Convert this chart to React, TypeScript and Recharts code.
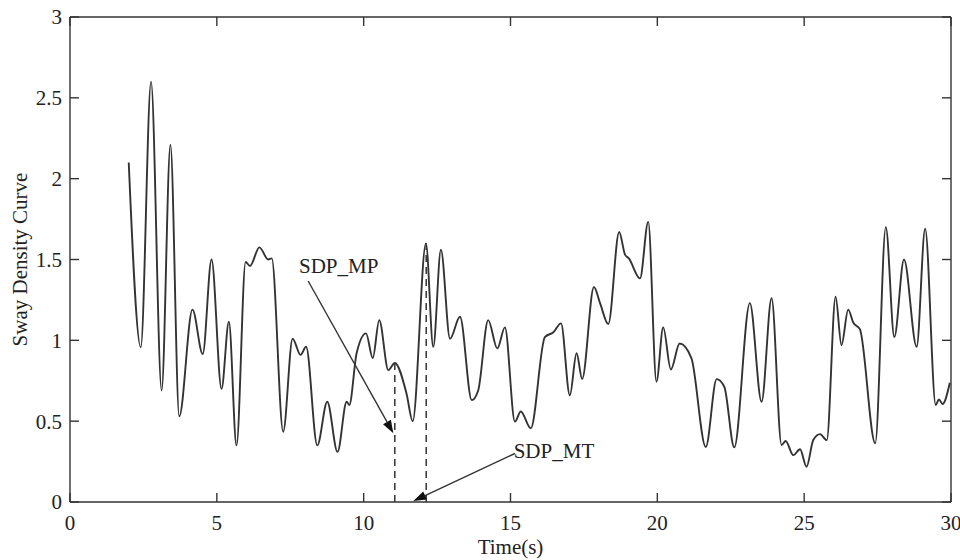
import { Line, LineChart, ReferenceDot, ReferenceLine, XAxis, YAxis } from "recharts"

// tiempos (s) y valores de la curva
const times = [
  2.0, 2.41, 2.76, 3.12, 3.42, 3.72, 4.17, 4.52, 4.82, 5.16, 5.41, 5.67, 5.98, 6.13, 6.45, 6.75, 6.87,
  7.26, 7.58, 7.85, 8.04, 8.42, 8.76, 9.11, 9.42, 9.51, 9.76, 10.08, 10.31, 10.53, 10.84, 11.06, 11.46,
  11.67, 12.12, 12.37, 12.63, 12.94, 13.28, 13.68, 13.9, 14.24, 14.55, 14.81, 15.15, 15.35, 15.69, 16.17,
  16.46, 16.72, 17.02, 17.25, 17.44, 17.84, 18.05, 18.33, 18.7, 18.9, 19.03, 19.41, 19.69, 19.97, 20.2,
  20.46, 20.76, 21.16, 21.65, 22.02, 22.28, 22.62, 23.15, 23.55, 23.89, 24.23, 24.37, 24.63, 24.86, 25.08,
  25.31, 25.54, 25.77, 26.07, 26.27, 26.5, 26.67, 26.9, 27.42, 27.78, 28.07, 28.4, 28.83, 29.12, 29.48,
  29.59, 29.71, 29.96,
]
const sway = [
  2.1, 0.957, 2.6, 0.69, 2.21, 0.53, 1.19, 0.915, 1.5, 0.7, 1.115, 0.35, 1.485, 1.46, 1.575, 1.5, 1.507,
  0.435, 1.01, 0.91, 0.96, 0.35, 0.62, 0.31, 0.62, 0.6, 0.92, 1.043, 0.89, 1.125, 0.816, 0.86, 0.67,
  0.5, 1.6, 0.96, 1.56, 1.01, 1.146, 0.63, 0.69, 1.125, 0.95, 1.08, 0.497, 0.56, 0.456, 1.02,
  1.05, 1.105, 0.66, 0.92, 0.76, 1.33, 1.23, 1.1, 1.67, 1.53, 1.507, 1.383, 1.733, 0.744, 1.08,
  0.82, 0.98, 0.89, 0.34, 0.76, 0.713, 0.338, 1.23, 0.62, 1.26, 0.353, 0.377, 0.29, 0.326, 0.218,
  0.383, 0.42, 0.383, 1.27, 0.97, 1.19, 1.11, 1.068, 0.363, 1.7, 1.02, 1.5, 0.96, 1.69, 0.6,
  0.635, 0.606, 0.738,
]

const xTicks = [0, 5, 10, 15, 20, 25, 30]
const yTicks = [0, 0.5, 1, 1.5, 2, 2.5, 3]

// anotaciones: puntos marcados y flechas
const sdpMp = { t: 11.06, v: 0.86 }
const sdpMt = { t: 12.13, v: 1.6 }
const mpLabel = { t: 9.15, v: 1.46, text: "SDP_MP" }
const mtLabel = { t: 16.48, v: 0.32, text: "SDP_MT" }
const mpArrow = [{ x: 8.11, y: 1.367 }, { x: 11.01, y: 0.425 }]
const mtArrow = [{ x: 15.15, y: 0.3 }, { x: 11.69, y: 0.006 }]

const data = times.map((t, i) => ({ t, v: sway[i] }))

const ink = "#333"
const font = "'Liberation Serif', 'Times New Roman', serif"
const TICK = 9

function ArrowSegment(props: any) {
  const { x1, y1, x2, y2 } = props
  const ang = Math.atan2(y2 - y1, x2 - x1)
  const len = 13
  const half = 4.5
  const bx = x2 - len * Math.cos(ang)
  const by = y2 - len * Math.sin(ang)
  const px = -Math.sin(ang) * half
  const py = Math.cos(ang) * half
  return (
    <g>
      <line x1={x1} y1={y1} x2={bx} y2={by} stroke={ink} strokeWidth={1.4} />
      <polygon points={`${x2},${y2} ${bx + px},${by + py} ${bx - px},${by - py}`} fill="#111" />
    </g>
  )
}

// marcas de graduación hacia dentro, en ambos extremos de la línea de referencia
function InwardTicks(props: any) {
  const { x1, y1, x2, y2 } = props
  if (Math.abs(x1 - x2) < 0.5) {
    const top = Math.min(y1, y2)
    const bot = Math.max(y1, y2)
    return (
      <g stroke={ink} strokeWidth={1.4}>
        <line x1={x1} y1={top} x2={x1} y2={top + TICK} />
        <line x1={x1} y1={bot - TICK} x2={x1} y2={bot} />
      </g>
    )
  }
  const l = Math.min(x1, x2)
  const r = Math.max(x1, x2)
  return (
    <g stroke={ink} strokeWidth={1.4}>
      <line x1={l} y1={y1} x2={l + TICK} y2={y1} />
      <line x1={r - TICK} y1={y1} x2={r} y2={y1} />
    </g>
  )
}

export default function App() {
  return (
    <div style={{ position: "absolute", left: 0, top: 0, background: "#fff" }}>
      <LineChart
        width={960}
        height={560}
        data={data}
        margin={{ top: 17, right: 9, left: 0, bottom: 0 }}
        style={{ fontFamily: font }}
      >
        <XAxis
          type="number"
          dataKey="t"
          domain={[0, 30]}
          ticks={xTicks}
          interval={0}
          allowDataOverflow
          height={58}
          stroke={ink}
          strokeWidth={1.4}
          tickLine={false}
          tickMargin={7}
          tick={{ fill: "#222", fontSize: 21, fontFamily: font }}
          label={{ value: "Time(s)", position: "insideBottom", offset: 6, fill: "#222", fontSize: 21, fontFamily: font }}
        />
        <YAxis
          type="number"
          domain={[0, 3]}
          ticks={yTicks}
          interval={0}
          width={70}
          stroke={ink}
          strokeWidth={1.4}
          tickLine={false}
          tickMargin={2}
          tick={{ fill: "#222", fontSize: 21, fontFamily: font }}
          label={{
            value: "Sway Density Curve",
            angle: -90,
            position: "insideLeft",
            offset: 20,
            fill: "#222",
            fontSize: 21,
            fontFamily: font,
            style: { textAnchor: "middle" },
          }}
        />
        {/* marco superior y derecho */}
        <ReferenceLine y={3} stroke={ink} strokeWidth={1.4} />
        <ReferenceLine x={30} stroke={ink} strokeWidth={1.4} />
        {xTicks.map((v) => (
          <ReferenceLine key={`xt${v}`} x={v} shape={(p: any) => <InwardTicks {...p} />} />
        ))}
        {yTicks.map((v) => (
          <ReferenceLine key={`yt${v}`} y={v} shape={(p: any) => <InwardTicks {...p} />} />
        ))}
        <Line
          type="monotone"
          dataKey="v"
          stroke="#333"
          strokeWidth={1.9}
          dot={false}
          isAnimationActive={false}
        />
        <ReferenceLine
          segment={[{ x: sdpMp.t, y: 0 }, { x: sdpMp.t, y: sdpMp.v }]}
          stroke={ink}
          strokeWidth={1.5}
          strokeDasharray="7 5"
        />
        <ReferenceLine
          segment={[{ x: sdpMt.t, y: 0 }, { x: sdpMt.t, y: sdpMt.v }]}
          stroke={ink}
          strokeWidth={1.5}
          strokeDasharray="7 5"
        />
        <ReferenceLine segment={mpArrow} shape={(p: any) => <ArrowSegment {...p} />} />
        <ReferenceLine segment={mtArrow} shape={(p: any) => <ArrowSegment {...p} />} />
        <ReferenceDot
          x={mpLabel.t}
          y={mpLabel.v}
          r={0}
          stroke="none"
          label={{ value: mpLabel.text, position: "center", fill: "#222", fontSize: 21, fontFamily: font }}
        />
        <ReferenceDot
          x={mtLabel.t}
          y={mtLabel.v}
          r={0}
          stroke="none"
          label={{ value: mtLabel.text, position: "center", fill: "#222", fontSize: 21, fontFamily: font }}
        />
      </LineChart>
    </div>
  )
}
